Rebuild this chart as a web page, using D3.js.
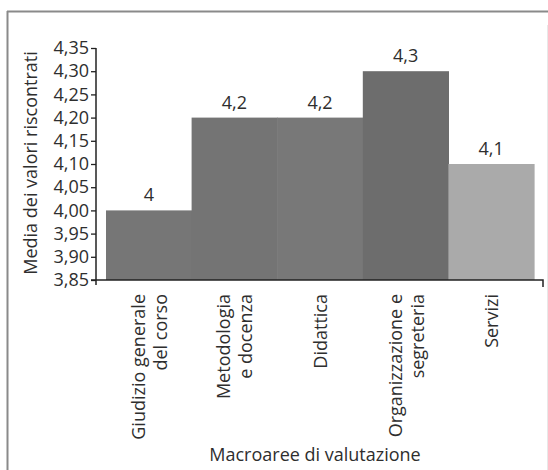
<!DOCTYPE html>
<html><head><meta charset="utf-8">
<script src="https://cdn.jsdelivr.net/npm/d3@7"></script>
<style>
html,body{margin:0;padding:0;background:#fff;}
text{font-family:"Open Sans",sans-serif;fill:#2e2e2e;}
</style></head>
<body>
<svg id="c" width="548" height="470"></svg>
<script>
const categories = [["Giudizio generale","del corso"],["Metodologia","e docenza"],["Didattica"],["Organizzazione e","segreteria"],["Servizi"]];
const values = [4.0, 4.2, 4.2, 4.3, 4.1];
const valueLabels = ["4","4,2","4,2","4,3","4,1"];
const barColors = ["#767676","#747474","#787878","#6d6d6d","#aaaaaa"];
const yTicks = [3.85,3.90,3.95,4.00,4.05,4.10,4.15,4.20,4.25,4.30,4.35];
const yTitle = "Media dei valori riscontrati";
const xTitle = "Macroaree di valutazione";

const svg = d3.select("#c");
// frame
svg.append("line").attr("x1",7).attr("x2",548).attr("y1",11.5).attr("y2",11.5).attr("stroke","#8a8a8a").attr("stroke-width",2);
svg.append("line").attr("x1",7.5).attr("x2",7.5).attr("y1",11).attr("y2",470).attr("stroke","#8a8a8a").attr("stroke-width",2);
svg.append("line").attr("x1",547.5).attr("x2",547.5).attr("y1",25).attr("y2",470).attr("stroke","#e8e8e8").attr("stroke-width",1);

const x = d3.scaleBand().domain(d3.range(categories.length)).range([106,534]).padding(0);
const y = d3.scaleLinear().domain([3.85,4.35]).range([280,48]);
const fmt = d => d3.format(".2f")(d).replace(".",",");

// bars
svg.selectAll("rect.bar").data(values).join("rect")
  .attr("x",(d,i)=>x(i)).attr("width",x.bandwidth()+0.6)
  .attr("y",d=>y(d)).attr("height",d=>y(3.85)-y(d))
  .attr("fill",(d,i)=>barColors[i]);

// value labels
svg.selectAll("text.val").data(values).join("text")
  .attr("x",(d,i)=>x(i)+x.bandwidth()/2).attr("y",d=>y(d)-9)
  .attr("text-anchor","middle").attr("font-size",18)
  .text((d,i)=>valueLabels[i]);

// y axis
const yAxis = d3.axisLeft(y).tickValues(yTicks).tickFormat(fmt).tickSize(5).tickSizeOuter(0).tickPadding(2);
const gy = svg.append("g").attr("transform","translate(96,0)").call(yAxis);
gy.select(".domain").attr("stroke","#222").attr("stroke-width",1.5).attr("d","M0,48V285");
gy.selectAll(".tick line").attr("stroke","#222").attr("stroke-width",1.3);
gy.selectAll(".tick text").attr("font-size",18).attr("fill","#2e2e2e").style("font-family","Open Sans");

// x axis
const gx = svg.append("g").attr("transform","translate(0,280)").call(d3.axisBottom(x).tickSize(0).tickFormat(""));
gx.select(".domain").attr("stroke","#222").attr("stroke-width",1.5).attr("d","M91,0H543V7");

// category labels
categories.forEach((lines,i)=>{
  const cx = x(i)+x.bandwidth()/2;
  const n = lines.length;
  lines.forEach((t,j)=>{
    const off = (j-(n-1)/2)*22;
    svg.append("text")
      .attr("transform",`translate(${cx+off},294) rotate(-90)`)
      .attr("text-anchor","end").attr("dominant-baseline","central")
      .attr("font-size",18).text(t);
  });
});

// titles
svg.append("text").attr("transform","translate(30,163) rotate(-90)")
  .attr("text-anchor","middle").attr("dominant-baseline","central").attr("font-size",18).text(yTitle);
svg.append("text").attr("x",315).attr("y",461).attr("text-anchor","middle").attr("font-size",18).text(xTitle);
</script>
</body></html>
